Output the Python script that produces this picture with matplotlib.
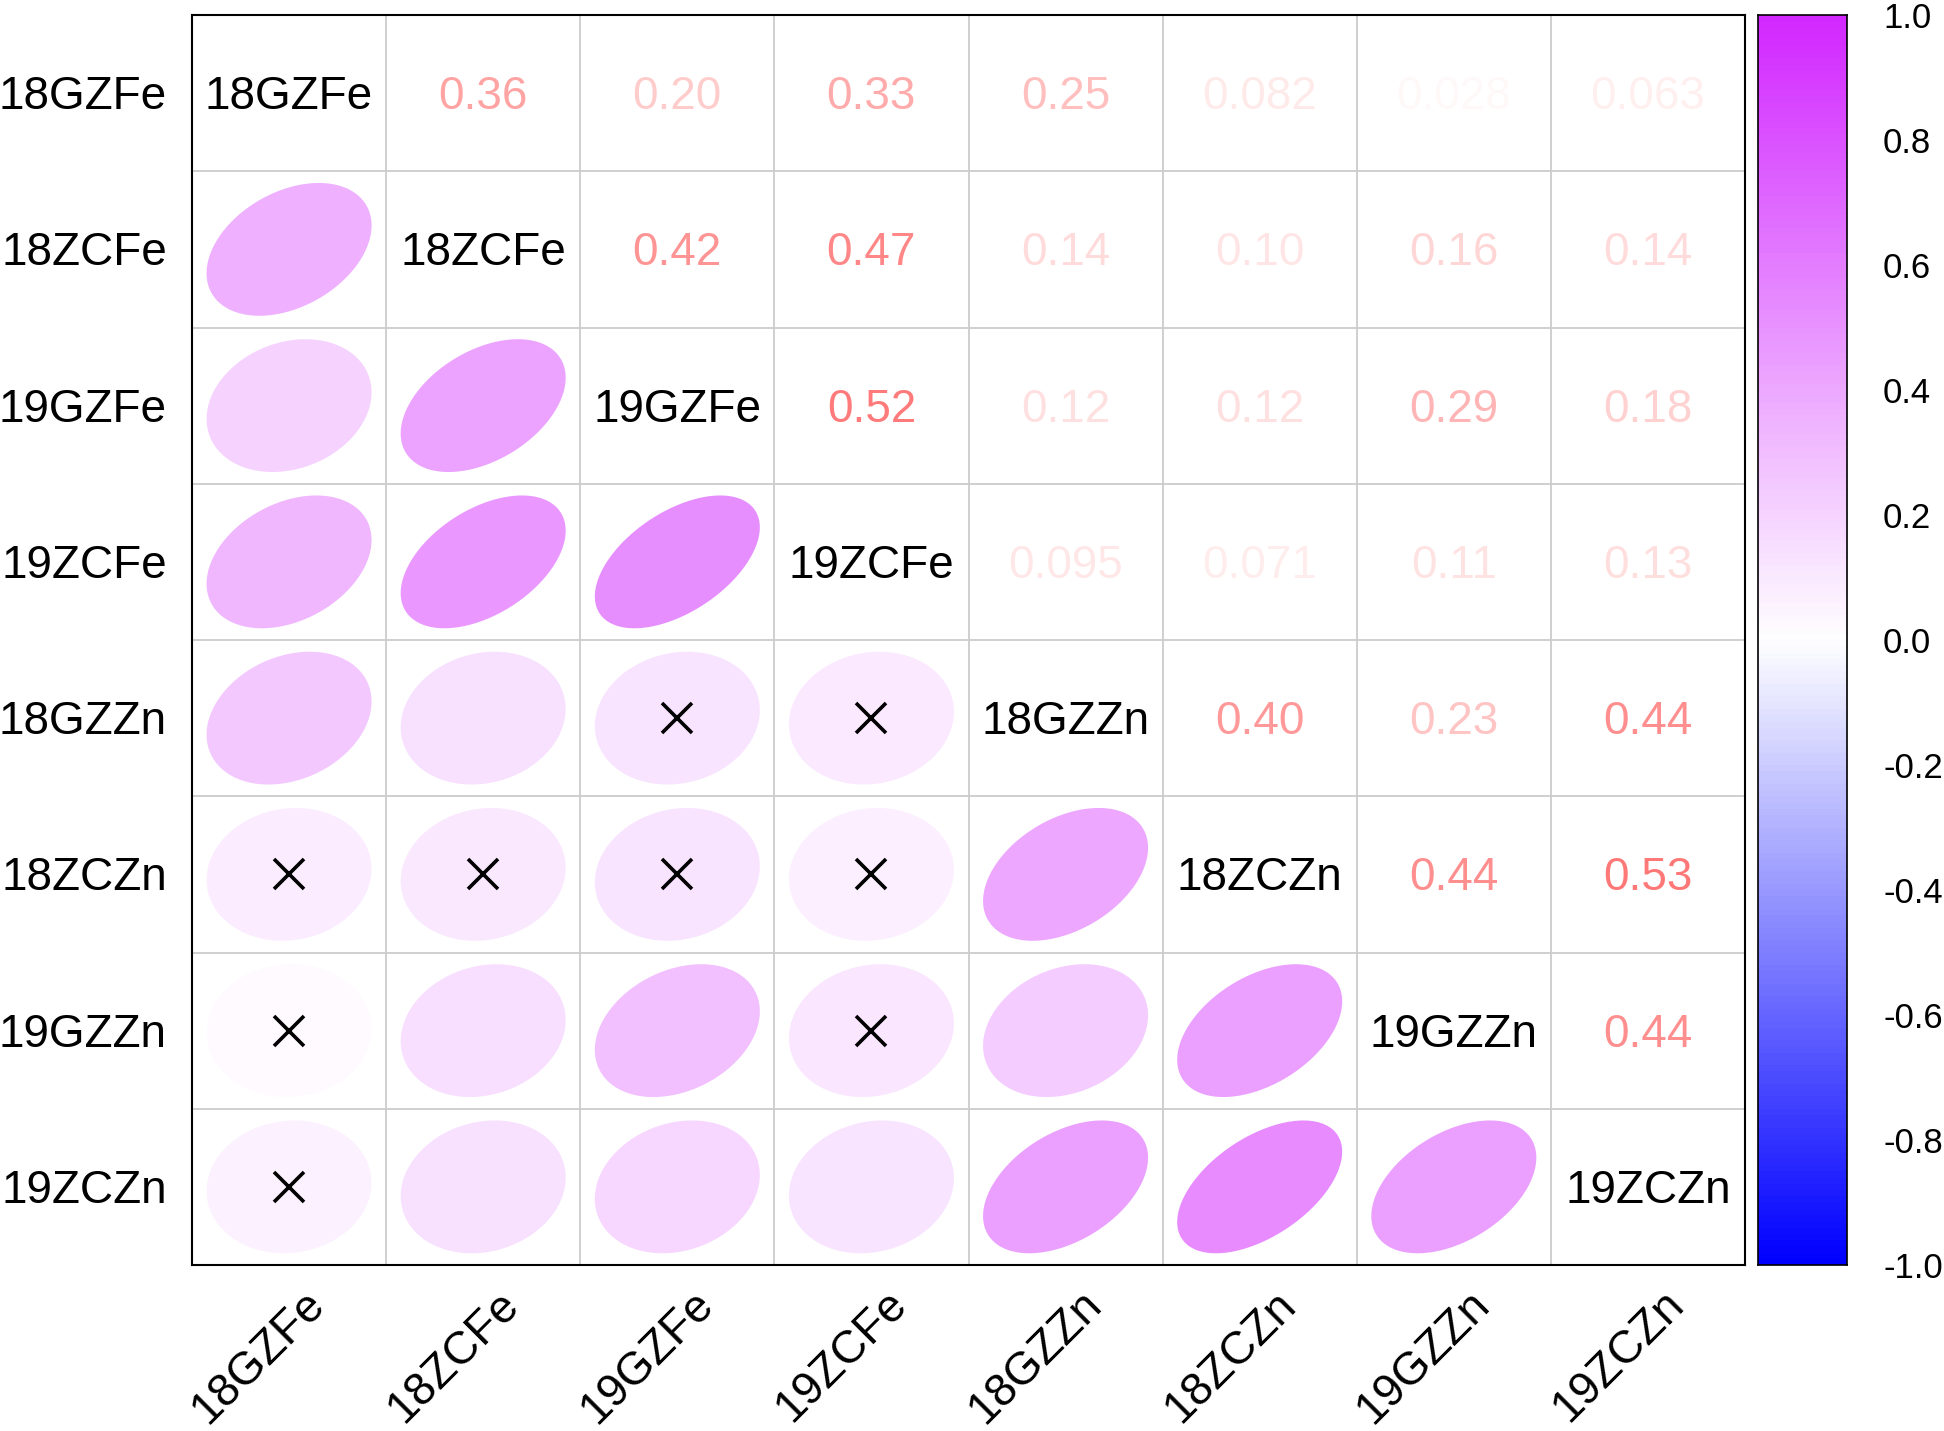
import numpy as np
import matplotlib
matplotlib.use("Agg")
import matplotlib.pyplot as plt
from matplotlib.colors import LinearSegmentedColormap
from matplotlib.patches import Polygon

plt.rcParams['font.family'] = ['Liberation Sans', 'DejaVu Sans']

labels = ["18GZFe", "18ZCFe", "19GZFe", "19ZCFe", "18GZZn", "18ZCZn", "19GZZn", "19ZCZn"]

# upper-triangle correlations, row by row
upper_rows = [
    [0.36, 0.20, 0.33, 0.25, 0.082, 0.028, 0.063],
    [0.42, 0.47, 0.14, 0.10, 0.16, 0.14],
    [0.52, 0.12, 0.12, 0.29, 0.18],
    [0.095, 0.071, 0.11, 0.13],
    [0.40, 0.23, 0.44],
    [0.44, 0.53],
    [0.44],
]
upper_text = [
    ["0.36", "0.20", "0.33", "0.25", "0.082", "0.028", "0.063"],
    ["0.42", "0.47", "0.14", "0.10", "0.16", "0.14"],
    ["0.52", "0.12", "0.12", "0.29", "0.18"],
    ["0.095", "0.071", "0.11", "0.13"],
    ["0.40", "0.23", "0.44"],
    ["0.44", "0.53"],
    ["0.44"],
]
# non-significant pairs (row, col) in lower triangle
nonsig = [(4, 2), (4, 3), (5, 0), (5, 1), (5, 2), (5, 3), (6, 0), (6, 3), (7, 0)]
cbar_ticks = [-1.0, -0.8, -0.6, -0.4, -0.2, 0.0, 0.2, 0.4, 0.6, 0.8, 1.0]
cbar_labels = ["-1.0", "-0.8", "-0.6", "-0.4", "-0.2", "0.0", "0.2", "0.4", "0.6", "0.8", "1.0"]

n = len(labels)
R = np.eye(n)
for i, row in enumerate(upper_rows):
    for k, v in enumerate(row):
        j = i + 1 + k
        R[i, j] = v
        R[j, i] = v

cmap = LinearSegmentedColormap.from_list("bwm", ["#0000FF", "#FFFFFF", "#D228FF"], N=200)

W, H = 1944, 1431
fig = plt.figure(figsize=(W / 100, H / 100), dpi=100)
gx0, gx1, gy0, gy1 = 192, 1745, 15, 1265
ax = fig.add_axes([gx0 / W, 1 - gy1 / H, (gx1 - gx0) / W, (gy1 - gy0) / H])
ax.set_xlim(0, n)
ax.set_ylim(n, 0)
ax.set_xticks([])
ax.set_yticks([])
for s in ax.spines.values():
    s.set_linewidth(1.5)
    s.set_color("black")

# grid
for k in range(1, n):
    ax.axvline(k, color="#CCCCCC", lw=1.3, zorder=1)
    ax.axhline(k, color="#CCCCCC", lw=1.3, zorder=1)

t = np.linspace(0, 2 * np.pi, 200)
fs = 33
dy = 0.025
for i in range(n):
    for j in range(n):
        cx, cy = j + 0.5, i + 0.5
        r = R[i, j]
        if i == j:
            ax.text(cx, cy + dy, labels[i], ha="center", va="center", fontsize=fs, color="black", zorder=3)
        elif j > i:
            txt = upper_text[i][j - i - 1]
            ax.text(cx, cy + dy, txt, ha="center", va="center", fontsize=fs,
                    color=(1, 0, 0, abs(r)), zorder=3)
        else:
            a = np.arccos(r)
            ex = np.cos(t + a / 2) / 2 * 0.85
            ey = np.cos(t - a / 2) / 2 * 0.85
            poly = Polygon(np.column_stack([cx + ex, cy - ey]), closed=True,
                           facecolor=cmap((r + 1) / 2), edgecolor="none", zorder=2)
            ax.add_patch(poly)
            if (i, j) in nonsig:
                ax.plot([cx], [cy], marker="x", markersize=22, mew=2.6, color="black", zorder=4)

# y labels
for i in range(n):
    ax.text(-0.13, i + 0.5 + dy, labels[i], ha="right", va="center", fontsize=fs, color="black")
# x labels rotated
for j in range(n):
    ax.text(j + 0.65, n + 0.21, labels[j], ha="right", va="center", fontsize=fs,
            rotation=45, rotation_mode="anchor", color="black")

# colorbar
cx0, cx1 = 1758, 1847
cax = fig.add_axes([cx0 / W, 1 - gy1 / H, (cx1 - cx0) / W, (gy1 - gy0) / H])
grad = np.linspace(-1, 1, 200).reshape(-1, 1)
cax.imshow(grad, aspect="auto", cmap=cmap, origin="lower", extent=[0, 1, -1, 1], vmin=-1, vmax=1)
cax.set_xticks([])
cax.yaxis.tick_right()
cax.set_yticks(cbar_ticks)
cax.set_yticklabels(cbar_labels, fontsize=25)
cax.tick_params(axis="y", length=0, pad=26)
for s in cax.spines.values():
    s.set_linewidth(1.2)

fig.savefig("out.png", dpi=100, facecolor="white")
